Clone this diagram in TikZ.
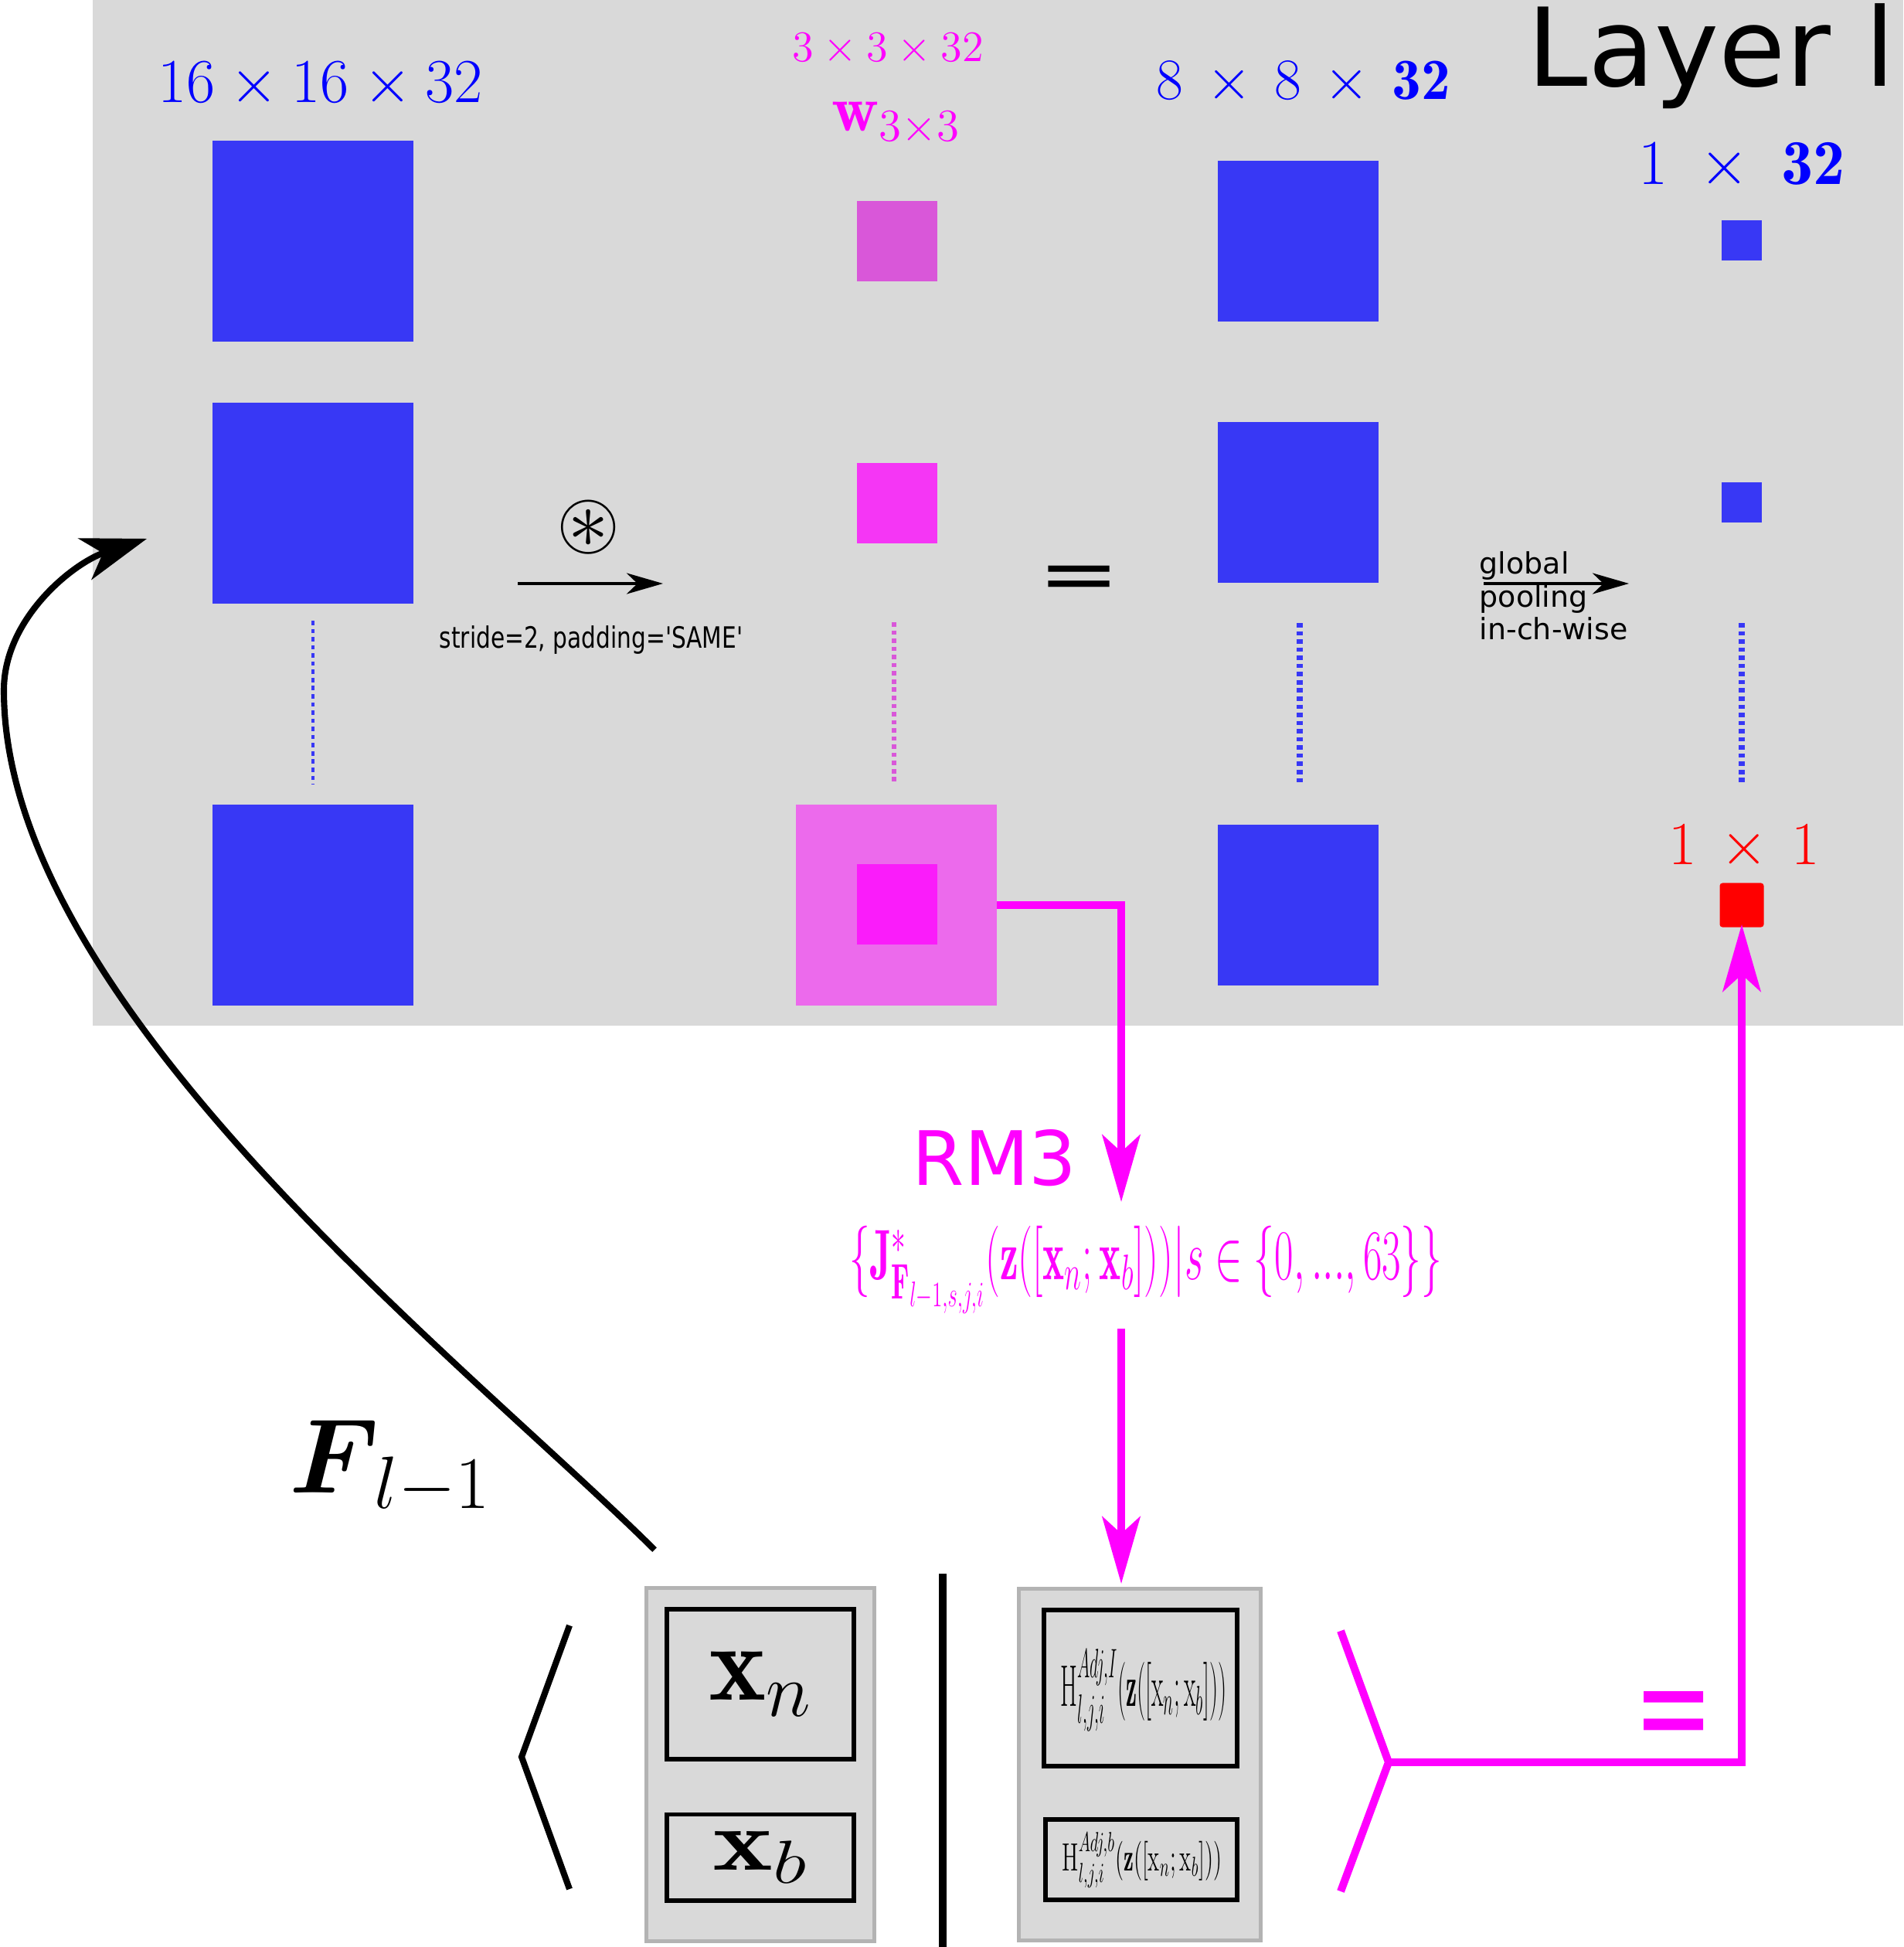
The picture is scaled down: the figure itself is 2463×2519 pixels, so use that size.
\RequirePackage{fix-cm}
\documentclass[tikz,border=0pt]{standalone}
\usepackage{amsmath,amssymb,bm}
\usepackage{graphicx}
\usepackage{fontspec}
\newfontfamily\dvs{DejaVu Sans}
\usetikzlibrary{arrows.meta,calc}
\definecolor{bggray}{HTML}{D9D9D9}
\definecolor{bordergray}{HTML}{B3B3B3}
\definecolor{sqblue}{HTML}{3838F5}
\definecolor{txtblue}{HTML}{0000FF}
\definecolor{mag}{HTML}{FF00FF}
\definecolor{magA}{HTML}{D957D9}
\definecolor{magB}{HTML}{F536F5}
\definecolor{magC}{HTML}{EC6AEC}
\definecolor{magD}{HTML}{FA1CFA}
\definecolor{redsq}{HTML}{FF0000}
\tikzset{
  sq/.style={inner sep=0pt, outer sep=0pt, minimum size=#1},
  dotline/.style={line width=#1, dash pattern=on 1.6pt off 1.4pt},
  magline/.style={draw=mag, line width=2.85pt},
  magarrow/.style={magline, -{Stealth[length=24.7pt,width=14pt,inset=6.3pt]}},
  smallarrow/.style={line width=1.1pt, -{Stealth[length=13.4pt,width=7.7pt,inset=4pt]}},
  curvearrow/.style={line width=2.3pt, -{Stealth[length=24pt,width=16pt,inset=7pt]}},
  graybox/.style={draw=bordergray, fill=bggray, line width=1.4pt, inner sep=0pt, outer sep=0pt},
  blackbox/.style={draw=black, line width=1.7pt, inner sep=0pt, outer sep=0pt},
}
\begin{document}
\begin{tikzpicture}[x=0.01cm,y=-0.01cm]
\useasboundingbox (0,0) rectangle (2463,2519);
\fill[bggray] (120,0) rectangle (2463,1327);

% column 1: input feature maps
\node[sq=2.6cm, fill=sqblue] (a1) at (405,312) {};
\node[sq=2.6cm, fill=sqblue] (a2) at (405,651) {};
\node[sq=2.6cm, fill=sqblue] (a3) at (405,1171) {};
\draw[sqblue, dotline=1.4pt] ($(a2.south)+(0,22)$) -- ($(a3.north)+(0,-26)$);

% column 2: kernels
\node[sq=1.04cm, fill=magA] (k1) at (1161,312) {};
\node[sq=1.04cm, fill=magB] (k2) at (1161,651) {};
\node[sq=2.6cm, fill=magC] (k3) at (1160,1171) {};
\node[sq=1.04cm, fill=magD] (k3i) at (1161,1170) {};
\draw[magA, dotline=1.8pt] ($(k2.south)+(-4,102)$) -- ($(k3.north)+(-3,-26)$);

% column 3: output maps
\node[sq=2.08cm, fill=sqblue] (b1) at (1680,312) {};
\node[sq=2.08cm, fill=sqblue] (b2) at (1680,650) {};
\node[sq=2.08cm, fill=sqblue] (b3) at (1680,1171) {};
\draw[sqblue, dotline=2.3pt] ($(b2.south)+(2,52)$) -- ($(b3.north)+(2,-52)$);

% column 4: pooled
\node[sq=0.52cm, fill=sqblue] (c1) at (2254,311) {};
\node[sq=0.52cm, fill=sqblue] (c2) at (2254,650) {};
\node[sq=0.57cm, fill=redsq, rounded corners=1pt] (red) at (2254,1171) {};
\draw[sqblue, dotline=2.1pt] ($(c2.south)+(0,130)$) -- (2254,1015);

% labels
\node[anchor=base, text=txtblue, font={\fontsize{23pt}{27pt}\selectfont}] (l1) at (415,133) {$16\times16\times32$};
\node[anchor=base, text=mag, font={\fontsize{16pt}{19pt}\selectfont}] (l2) at (1149,80) {$3\times3\times32$};
\node[anchor=base, text=mag, font={\fontsize{24pt}{29pt}\selectfont}] (l3) at (1160,170) {$\mathbf{w}_{3\times3}$};
\node[anchor=base, text=txtblue, font={\fontsize{21.5pt}{26pt}\selectfont}] (l4) at (1687,129) {$8\,\times\,8\,\times\,\mathbf{32}$};
\node[anchor=base, text=txtblue, font={\fontsize{23.5pt}{28pt}\selectfont}] (l5) at (2254,239) {$1\;\times\;\mathbf{32}$};
\node[anchor=base, text=redsq, font={\fontsize{22.5pt}{27pt}\selectfont}] (l6) at (2257,1118) {$1\,\times\,1$};
\node[anchor=base west, inner sep=0pt, font={\dvs\fontsize{40pt}{48pt}\selectfont}] (layer) at (1976,112) {Layer l};

% convolution arrow
\node[font={\fontsize{30pt}{34pt}\selectfont}] (conv) at (762,682) {$\circledast$};
\coordinate (cvs) at (670,755);
\coordinate (cve) at (858,755);
\draw[smallarrow] (cvs) -- (cve);
\node[anchor=base, inner sep=0pt, font={\dvs\fontsize{10.8pt}{13pt}\selectfont}] (stride) at (765,838) {\scalebox{0.78}[1]{stride=2, padding='SAME'}};
\node[font={\dvs\fontsize{36pt}{40pt}\selectfont}] (eq1) at (1397,754) {\scalebox{1}[0.77]{=}};

% pooling arrow
\coordinate (pls) at (1920,755);
\coordinate (ple) at (2108,755);
\draw[smallarrow] (pls) -- (ple);
\node[anchor=north west, inner sep=0pt, align=left, font={\dvs\fontsize{10.8pt}{12.1pt}\selectfont}] (pool) at (1914,713) {global\\pooling\\in-ch-wise};

% RM3
\coordinate (rmtip) at (1451,1555);
\draw[magarrow] (k3.east) -| (rmtip);
\node[anchor=base west, inner sep=0pt, text=mag, font={\dvs\fontsize{27.6pt}{32pt}\selectfont}] (rm3) at (1180,1533) {RM3};
\node[anchor=base, text=mag, inner sep=0pt, font={\fontsize{26.3pt}{31pt}\selectfont}] (jset) at (1483,1655) {\resizebox{7.66cm}{\height}{$\{\mathbf{J}^{*}_{\mathbf{F}_{l-1,s,j,i}}(\mathbf{z}([\mathbf{x}_n;\mathbf{x}_b]))|s\in\{0,...,63\}\}$}};

% bottom boxes
\node[graybox, minimum width=2.94cm, minimum height=4.56cm] (lbox) at (984,2283) {};
\node[blackbox, minimum width=2.42cm, minimum height=1.94cm, font={\fontsize{40pt}{48pt}\selectfont}] (xn) at (984,2179) {$\mathbf{x}_n$};
\node[blackbox, minimum width=2.42cm, minimum height=1.11cm, font={\fontsize{40pt}{48pt}\selectfont}] (xb) at (984,2403) {\scalebox{1.05}[0.8]{$\mathbf{x}_b$}};

\node[graybox, minimum width=3.13cm, minimum height=4.55cm] (rbox) at (1475,2283) {};
\node[blackbox, minimum width=2.50cm, minimum height=2.01cm] (h1) at (1476,2184) {};
\node[blackbox, minimum width=2.47cm, minimum height=1.04cm] (h2) at (1477,2406) {};
\node[anchor=base, inner sep=0pt, font={\fontsize{21.6pt}{26pt}\selectfont}] (h1t) at (1480,2207) {\resizebox{2.15cm}{\height}{$\mathrm{H}^{Adj,I}_{l,j,i}(\mathbf{z}([\mathrm{x}_n;\mathrm{x}_b]))$}};
\node[anchor=base, inner sep=0pt, font={\fontsize{14.5pt}{18pt}\selectfont}] (h2t) at (1478,2420) {\resizebox{2.07cm}{\height}{$\mathrm{H}^{Adj,b}_{l,j,i}(\mathbf{z}([\mathrm{x}_n;\mathrm{x}_b]))$}};

\coordinate (jbot) at (1451,1719);
\coordinate (htip) at (1451,2049);
\draw[magarrow] (jbot) -- (htip);

% separator and brackets
\coordinate (septop) at (1220,2036);
\coordinate (sepbot) at (1220,2519);
\draw[line width=2.6pt] (septop) -- (sepbot);
\coordinate (lbt) at (737,2103);
\coordinate (lbm) at (675,2273);
\coordinate (lbb) at (737,2444);
\draw[line width=2.3pt] (lbt) -- (lbm) -- (lbb);
\coordinate (rbt) at (1735,2110);
\coordinate (rbm) at (1797,2280);
\coordinate (rbb) at (1735,2447);
\draw[magline] (rbt) -- (rbm) -- (rbb);
\draw[magarrow, shorten >=-1pt] (rbm) -| (red.south);
\node[text=mag, font={\dvs\fontsize{35pt}{40pt}\selectfont}] (eq2) at (2166,2229) {\scalebox{1}[1.45]{=}};

% F_{l-1} curved arrow
\coordinate (fstart) at (847,2005);
\coordinate (ftip) at (190,697);
\draw[curvearrow] (fstart) .. controls (600,1760) and (5,1300) .. (5,893) .. controls (5,800) and (95,728) .. (ftip);
\node[anchor=base, font={\fontsize{39pt}{46pt}\selectfont}] (flabel) at (505,1931) {${\boldsymbol{F}}_{\,l-1}$};
\end{tikzpicture}
\end{document}
